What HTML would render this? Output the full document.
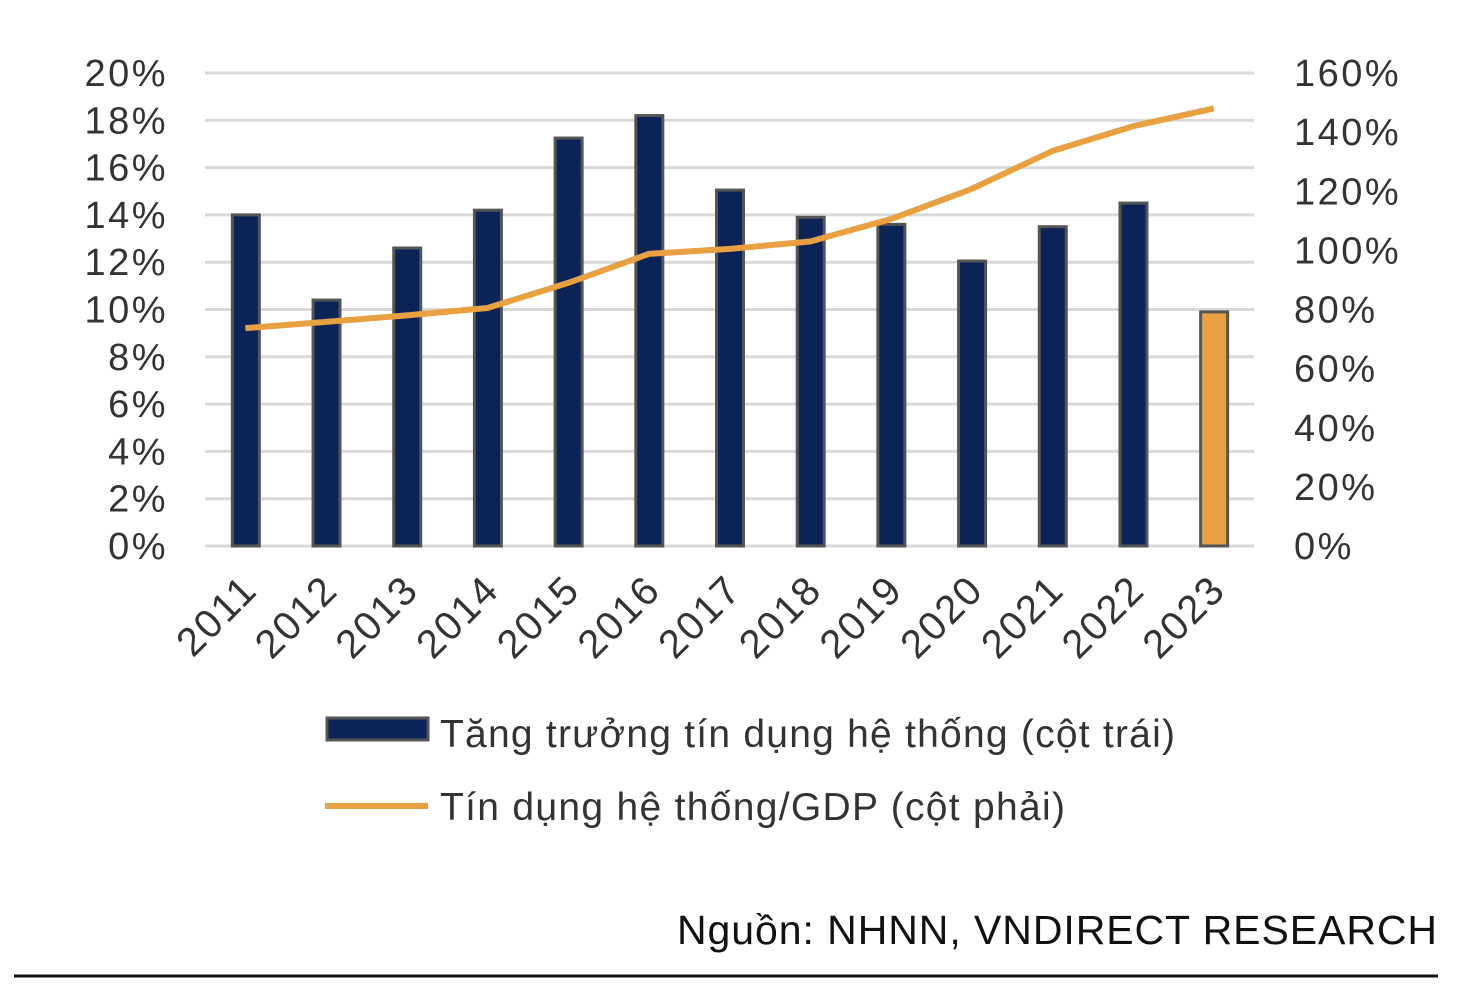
<!DOCTYPE html>
<html><head><meta charset="utf-8"><style>
body{margin:0;background:#fff;width:1472px;height:992px;overflow:hidden;font-family:"Liberation Sans",sans-serif}
svg text{font-family:"Liberation Sans",sans-serif}
</style></head><body>
<svg id="chart" width="1472" height="992" xmlns="http://www.w3.org/2000/svg">
<g id="grid"></g><g id="bars"></g><g id="line"></g><g id="ylabels"></g><g id="xlabels"></g>
<g>
<rect x="327" y="718" width="101" height="22" fill="#0b2357" stroke="#555" stroke-width="3"/>
<text x="440" y="747" font-size="39" fill="#333" textLength="735" lengthAdjust="spacing">Tăng trưởng tín dụng hệ thống (cột trái)</text>
<line x1="325" y1="806" x2="428" y2="806" stroke="#e8a040" stroke-width="6"/>
<text x="440" y="820" font-size="39" fill="#333" textLength="625" lengthAdjust="spacing">Tín dụng hệ thống/GDP (cột phải)</text>
</g>
<text x="677" y="944" font-size="41" fill="#111" textLength="760" lengthAdjust="spacing">Nguồn: NHNN, VNDIRECT RESEARCH</text>
<line x1="14" y1="976" x2="1438" y2="976" stroke="#111" stroke-width="3"/>
</svg>
<script>
const years=["2011","2012","2013","2014","2015","2016","2017","2018","2019","2020","2021","2022","2023"];
const growth=[14.0,10.4,12.6,14.2,17.25,18.2,15.05,13.9,13.6,12.05,13.5,14.5,9.9];
const creditGdp=[73.7,75.8,78,80.5,89,98.8,100.5,103,110.6,120.8,133.6,142,148];
const leftTicks=[0,2,4,6,8,10,12,14,16,18,20];
const rightTicks=[0,20,40,60,80,100,120,140,160];
const NS="http://www.w3.org/2000/svg";
const x0=205,x1=1254,yb=546,yt=73;
const band=(x1-x0)/years.length;
const xc=i=>x0+band*(i+0.5);
const yL=v=>yb-(v/20)*(yb-yt);
const yR=v=>yb-(v/160)*(yb-yt);
function mk(t,a,p){const e=document.createElementNS(NS,t);for(const k in a)e.setAttribute(k,a[k]);document.getElementById(p).appendChild(e);return e;}
leftTicks.forEach(v=>{
 const g=mk('line',{x1:x0,x2:x1,y1:yL(v),y2:yL(v),stroke:'#d9d9d9','stroke-width':3},'grid');
 
 
 const t=mk('text',{x:168,y:yL(v)+13,'font-size':38,'text-anchor':'end',fill:'#333','letter-spacing':2.5},'ylabels');t.textContent=v+'%';
 
 
});
rightTicks.forEach(v=>{
 const t=mk('text',{x:1294,y:yR(v)+13,'font-size':38,fill:'#333','letter-spacing':2.5},'ylabels');t.textContent=v+'%';
 
 
});
growth.forEach((v,i)=>{
 const last=i===growth.length-1;
 const r=mk('rect',{x:xc(i)-13,y:yL(v),width:27,height:yb-yL(v),fill:last?'#e8a040':'#0b2357',stroke:'#555','stroke-width':3},'bars');
 
 
});
const pts=creditGdp.map((v,i)=>xc(i)+','+yR(v)).join(' ');
const pl=mk('polyline',{points:pts,fill:'none',stroke:'#e8a040','stroke-width':6,'stroke-linejoin':'round'},'line');


years.forEach((y,i)=>{
 const cx=xc(i)+14,cy=592;
 const t=mk('text',{x:cx,y:cy,'font-size':40,'text-anchor':'end',fill:'#333','letter-spacing':2,transform:'rotate(-45 '+cx+' '+cy+')'},'xlabels');t.textContent=y;
 
 
});
</script>
</body></html>
